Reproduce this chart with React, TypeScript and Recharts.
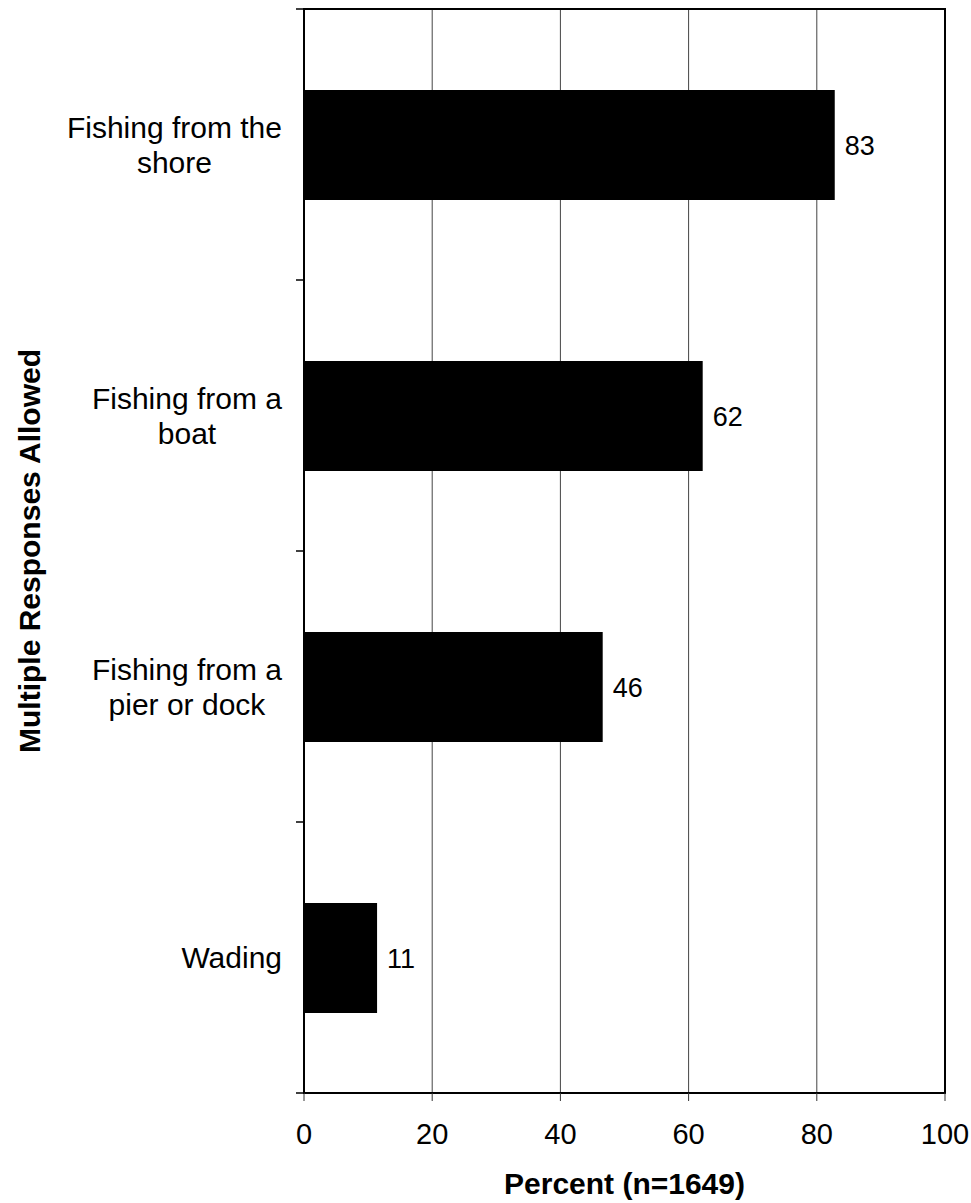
import React from 'react';
import {
  BarChart,
  Bar,
  XAxis,
  YAxis,
  CartesianGrid,
  LabelList,
  ReferenceArea,
} from 'recharts';

const categories = [
  'Fishing from the\nshore',
  'Fishing from a\nboat',
  'Fishing from a\npier or dock',
  'Wading',
];
const percents = [82.8, 62.2, 46.6, 11.4];
const valueLabels = ['83', '62', '46', '11'];
const xTicks = [0, 20, 40, 60, 80, 100];

const FONT = '"Liberation Sans", Arial, sans-serif';

const data = categories.map((name, i) => ({
  name,
  value: percents[i],
  label: valueLabels[i],
}));

let measureCtx: CanvasRenderingContext2D | null = null;
const textWidth = (t: string, size: number) => {
  if (!measureCtx) measureCtx = document.createElement('canvas').getContext('2d');
  if (!measureCtx) return t.length * size * 0.5;
  measureCtx.font = `${size}px ${FONT}`;
  return measureCtx.measureText(t).width;
};

// category label, lines centred on each other (Excel style) + band edge tick marks
const CategoryTick = ({ x, y, payload, index }: any) => {
  const lines = String(payload.value).split('\n');
  const lh = 35;
  const maxW = Math.max(...lines.map((l) => textWidth(l, 30)));
  const cx = x - maxW / 2;
  const half = payload.offset || 0;
  const axisX = x + 22;
  return (
    <g>
      <text x={cx} y={y} textAnchor="middle" fontSize={30} fill="#000" fontFamily={FONT}>
        {lines.map((line, i) => (
          <tspan key={i} x={cx} dy={i === 0 ? -((lines.length - 1) * lh) / 2 + 10.5 : lh}>
            {line}
          </tspan>
        ))}
      </text>
      {half > 0 && (
        <line x1={axisX - 8} x2={axisX} y1={y - half} y2={y - half} stroke="#000" strokeWidth={1.5} />
      )}
      {half > 0 && index === categories.length - 1 && (
        <line x1={axisX - 8} x2={axisX} y1={y + half} y2={y + half} stroke="#000" strokeWidth={1.5} />
      )}
    </g>
  );
};

const YTitle = ({ viewBox }: any) => {
  const cx = viewBox.x + 29;
  const cy = viewBox.y + viewBox.height / 2;
  return (
    <text
      x={cx}
      y={cy}
      transform={`rotate(-90, ${cx}, ${cy})`}
      textAnchor="middle"
      dominantBaseline="central"
      fontSize={30}
      fontWeight="bold"
      fill="#000"
      fontFamily={FONT}
    >
      Multiple Responses Allowed
    </text>
  );
};

export default function App() {
  return (
    <div style={{ position: 'absolute', left: 0, top: 0, background: '#fff' }}>
      <BarChart
        width={971}
        height={1203}
        data={data}
        layout="vertical"
        margin={{ top: 9, right: 26, bottom: 0, left: 0 }}
      >
        <CartesianGrid horizontal={false} stroke="#444" strokeWidth={1} />
        {/* plot frame */}
        <ReferenceArea x1={0} x2={100} fill="none" stroke="#000" strokeWidth={2} ifOverflow="visible" />
        <XAxis
          type="number"
          domain={[0, 100]}
          ticks={xTicks}
          height={110}
          tickSize={8}
          tickMargin={22}
          tickLine={{ stroke: '#333', strokeWidth: 1 }}
          axisLine={{ stroke: '#000', strokeWidth: 2 }}
          tick={{ fontSize: 29, fill: '#000', fontFamily: FONT }}
          label={{
            value: 'Percent (n=1649)',
            position: 'insideBottom',
            offset: 9,
            fontSize: 30,
            fontWeight: 'bold',
            fill: '#000',
            fontFamily: FONT,
          }}
        />
        <YAxis
          type="category"
          dataKey="name"
          width={304}
          tickSize={0}
          tickMargin={22}
          tickLine={false}
          axisLine={{ stroke: '#000', strokeWidth: 2 }}
          tick={<CategoryTick />}
          label={<YTitle />}
        />
        <Bar dataKey="value" fill="#000" barSize={110} isAnimationActive={false}>
          <LabelList
            dataKey="label"
            position="right"
            offset={10}
            fontSize={27}
            fill="#000"
            fontFamily={FONT}
          />
        </Bar>
      </BarChart>
    </div>
  );
}
